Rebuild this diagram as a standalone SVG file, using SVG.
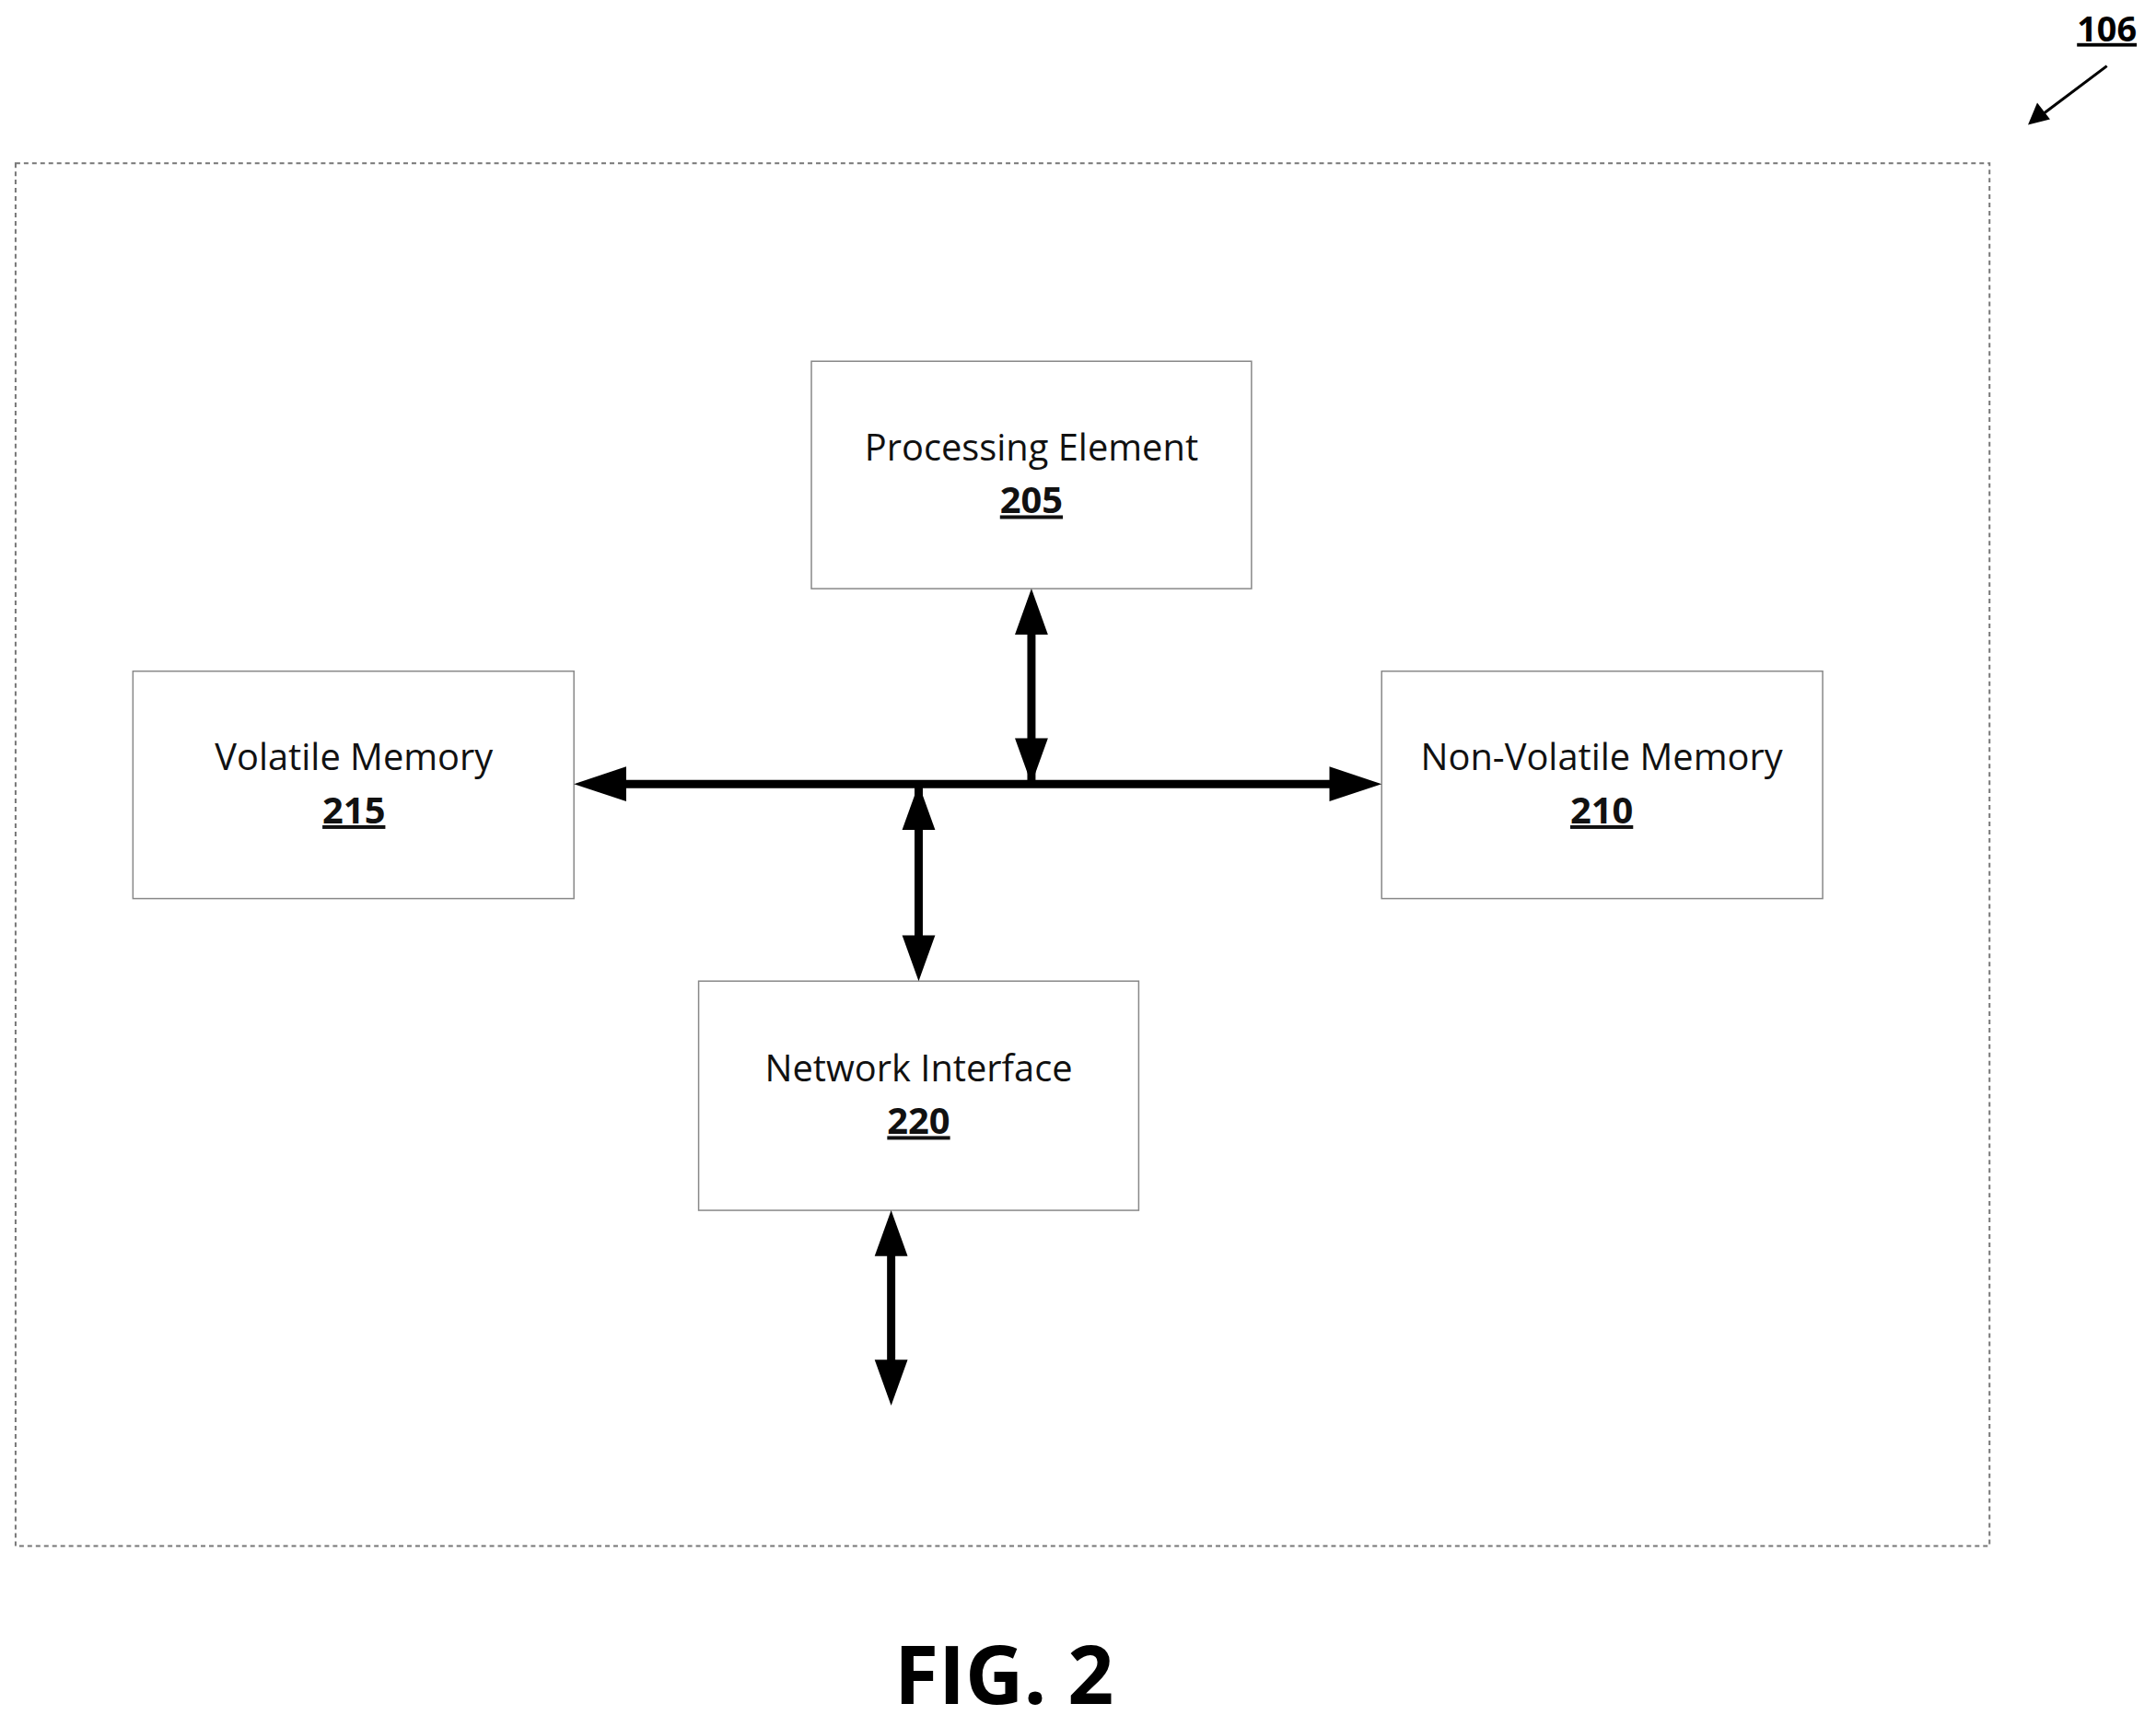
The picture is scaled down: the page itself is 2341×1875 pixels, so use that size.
<svg xmlns="http://www.w3.org/2000/svg" width="2341" height="1875" viewBox="0 0 2341 1875">
<style>
.box{fill:#fff;stroke:#888;stroke-width:1.5}
.t{font-family:"Open Sans","Liberation Sans",sans-serif;font-size:40px;fill:#111;text-anchor:middle}
.n{font-family:"Open Sans","Liberation Sans",sans-serif;font-size:40px;font-weight:bold;fill:#111;text-anchor:middle;text-decoration:underline}
.l{stroke:#000;stroke-width:9;fill:none}
</style>
<rect width="2341" height="1875" fill="#fff"/>
<g transform="scale(0.9955)">
<rect x="17" y="178" width="2153" height="1508" fill="none" stroke="#777" stroke-width="2" stroke-dasharray="5,4"/>
<g id="n205"><rect class="box" x="885" y="394" width="480" height="248"/><text class="t" x="1125" y="502">Processing Element</text><text class="n" x="1125" y="560">205</text></g>
<g id="n215"><rect class="box" x="145" y="732" width="481" height="248"/><text class="t" x="386" y="840">Volatile Memory</text><text class="n" x="386" y="898">215</text></g>
<g id="n210"><rect class="box" x="1507" y="732" width="481" height="248"/><text class="t" x="1747" y="840">Non-Volatile Memory</text><text class="n" x="1747" y="898">210</text></g>
<g id="n220"><rect class="box" x="762" y="1070" width="480" height="250"/><text class="t" x="1002" y="1179">Network Interface</text><text class="n" x="1002" y="1237">220</text></g>
<g id="connectors">
<line class="l" x1="670" y1="855" x2="1462" y2="855"/>
<polygon points="626,855 683,836 683,874"/>
<polygon points="1507,855 1450,836 1450,874"/>
<line class="l" x1="1125" y1="690" x2="1125" y2="855"/>
<polygon points="1125,642 1107,692 1143,692"/>
<polygon points="1125,855 1107,805 1143,805"/>
<line class="l" x1="1002" y1="855" x2="1002" y2="1030"/>
<polygon points="1002,855 984,905 1020,905"/>
<polygon points="1002,1070 984,1020 1020,1020"/>
<line class="l" x1="972" y1="1360" x2="972" y2="1490"/>
<polygon points="972,1320 954,1370 990,1370"/>
<polygon points="972,1533 954,1483 990,1483"/>
<line x1="2298" y1="72" x2="2230" y2="123" stroke="#000" stroke-width="3"/>
<polygon points="2212,136 2222,112 2236,130"/>
</g>
<text x="2298" y="45" font-family="Open Sans,Liberation Sans,sans-serif" font-size="38" font-weight="bold" text-anchor="middle" text-decoration="underline">106</text>
<text x="1095" y="1858" font-family="Open Sans,Liberation Sans,sans-serif" font-size="88" font-weight="bold" text-anchor="middle">FIG. 2</text>
</g>
</svg>
